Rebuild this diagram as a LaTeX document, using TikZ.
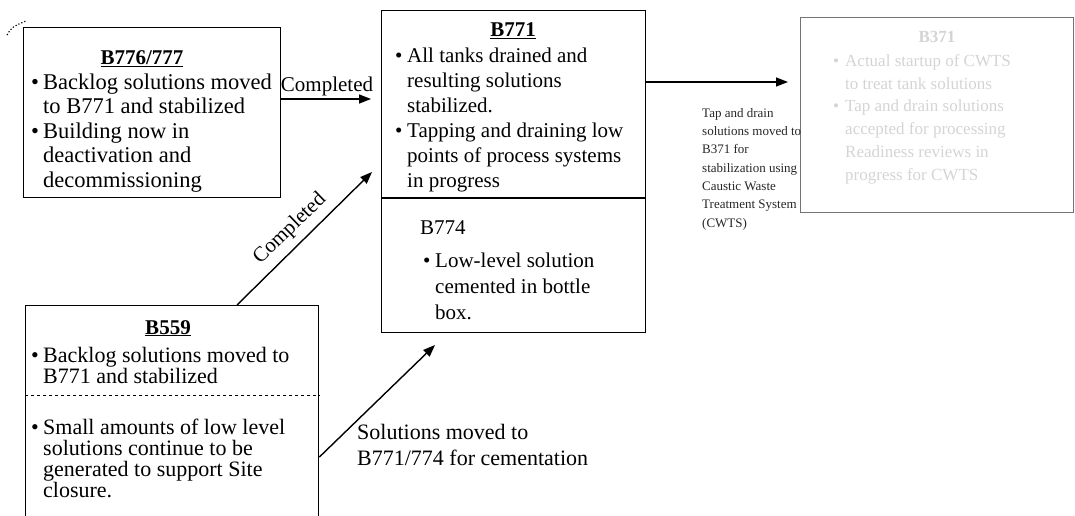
\documentclass[tikz,border=0pt]{standalone}
\usepackage{fontspec}
\setmainfont{Liberation Serif}
\usetikzlibrary{arrows.meta}
% bullet column and matching indent for continuation lines
\newcommand\itm{\makebox[12pt][l]{\textbullet}}
\newcommand\cnt{\hspace*{12pt}}
% fixed-height strut so a node's top sits a known distance above its first baseline
\newcommand\tp{\rule{0pt}{16pt}}

\begin{document}
\begin{tikzpicture}[x=1pt,y=-1pt,
  box/.style={draw,line width=1.4pt,inner sep=0pt,anchor=north west},
  txt/.style={inner sep=0pt,align=left,anchor=north west},
  ttl/.style={inner sep=0pt,anchor=base,font=\fontsize{21}{25}\selectfont\bfseries},
  conn/.style={line width=1.4pt,-{Triangle[length=12pt,width=9pt]}},
  faint/.style={text=black!17}
]
\useasboundingbox (0,0) rectangle (1075,516);

% ---- B776/777 ----
\node[box,minimum width=257pt,minimum height=170pt] (b776) at (23,27) {};
\node[ttl] (t776) at (142,65) {\underline{B776/777}};
\node[txt,font=\fontsize{22.5}{24.5}\selectfont] (x776) at (31,73) {\tp\itm Backlog solutions moved\\
\cnt to B771 and stabilized\\
\itm Building now in\\
\cnt deactivation and\\
\cnt decommissioning};
\draw[dotted,line width=1.2pt] (7,35) .. controls (12,27) .. (26,21);

% ---- B771 / B774 ----
\node[box,minimum width=264pt,minimum height=322pt] (b771) at (381,10) {};
\draw[line width=2.4pt] ([yshift=-188pt]b771.north west) -- ([yshift=-188pt]b771.north east);
\node[ttl] (t771) at (513,37) {\underline{B771}};
\node[txt,font=\fontsize{21}{25}\selectfont] (x771) at (395,46) {\tp\itm All tanks drained and\\
\cnt resulting solutions\\
\cnt stabilized.\\
\itm Tapping and draining low\\
\cnt points of process systems\\
\cnt in progress};
\node[txt,font=\fontsize{21}{26}\selectfont] (x774) at (420,218) {\tp B774};
\node[txt,font=\fontsize{21}{26}\selectfont] (y774) at (423,251) {\tp\itm Low-level solution\\
\cnt cemented in bottle\\
\cnt box.};

% ---- B559 ----
\node[box,minimum width=293pt,minimum height=220pt] (b559) at (25,305) {};
\draw[dashed,line width=1pt] ([yshift=-90pt]b559.north west) -- ([yshift=-90pt]b559.north east);
\node[ttl] (t559) at (168,334) {\underline{B559}};
\node[txt,font=\fontsize{22}{21}\selectfont] (x559a) at (31,346) {\tp\itm Backlog solutions moved to\\
\cnt B771 and stabilized};
\node[txt,font=\fontsize{22}{21.2}\selectfont] (x559b) at (31,418) {\tp\itm Small amounts of low level\\
\cnt solutions continue to be\\
\cnt generated to support Site\\
\cnt closure.};

% ---- B371 ----
\node[box,draw=black!55,minimum width=273pt,minimum height=195pt] (b371) at (800,17) {};
\node[ttl,faint,font=\fontsize{17}{22}\selectfont\bfseries] (t371) at (937,43) {B371};
\node[txt,faint,font=\fontsize{17}{22.8}\selectfont] (x371) at (833,50) {\tp\itm Actual startup of CWTS\\
\cnt to treat tank solutions\\
\itm Tap and drain solutions\\
\cnt accepted for processing\\
\cnt Readiness reviews in\\
\cnt progress for CWTS};

% ---- connectors ----
\coordinate (e1) at (371,99);
\coordinate (e2) at (372,172);
\coordinate (e3) at (435,345);
\coordinate (e4) at (788,82);
\draw[conn] (b776.east |- e1) -- (e1);
\draw[conn] ([xshift=212pt]b559.north west) -- (e2);
\draw[conn] ([yshift=-152pt]b559.north east) -- (e3);
\draw[conn] (b771.east |- e4) -- (e4);

% ---- labels ----
\node[inner sep=0pt,anchor=base,font=\fontsize{21}{25}\selectfont] (l1) at (327,92) {Completed};
\node[inner sep=0pt,rotate=44,font=\fontsize{21}{25}\selectfont] (l2) at (290,229) {Completed};
\node[txt,font=\fontsize{22}{26}\selectfont] (l3) at (357,423) {\tp Solutions moved to\\
B771/774 for cementation};
\node[txt,text=black!85,font=\fontsize{13}{18.3}\selectfont] (l4) at (702,104) {\rule{0pt}{13pt}Tap and drain\\
solutions moved to\\
B371 for\\
stabilization using\\
Caustic Waste\\
Treatment System\\
(CWTS)};
\end{tikzpicture}
\end{document}
